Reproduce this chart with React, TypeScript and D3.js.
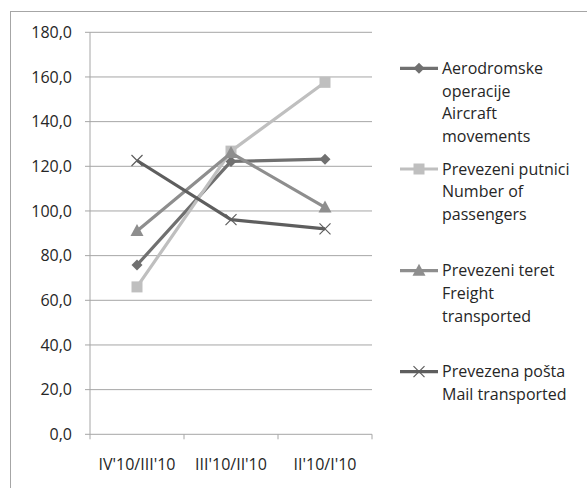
import React from "react";
import * as d3 from "d3";

const categories = ["IV'10/III'10", "III'10/II'10", "II'10/I'10"];
const aircraft = [75.8, 122.2, 123.2];
const passengers = [66.0, 126.8, 157.6];
const freight = [91.0, 126.0, 101.6];
const mail = [122.6, 96.1, 92.0];
const yTicks = [0, 20, 40, 60, 80, 100, 120, 140, 160, 180];

const seriesNames = [
  ["Aerodromske", "operacije", "Aircraft", "movements"],
  ["Prevezeni putnici", "Number of", "passengers"],
  ["Prevezeni teret", "Freight", "transported"],
  ["Prevezena pošta", "Mail transported"],
];

const series = [
  { values: aircraft, color: "#707070", marker: "diamond" },
  { values: passengers, color: "#bfbfbf", marker: "square" },
  { values: freight, color: "#8e8e8e", marker: "triangle" },
  { values: mail, color: "#5e5e5e", marker: "x" },
];

const FONT = "'Open Sans', sans-serif";

function Marker({ type, x, y, color }: { type: string; x: number; y: number; color: string }) {
  if (type === "diamond") {
    const s = 5.5;
    return <path d={`M${x},${y - s}L${x + s},${y}L${x},${y + s}L${x - s},${y}Z`} fill={color} />;
  }
  if (type === "square") {
    const s = 5.5;
    return <rect x={x - s} y={y - s} width={2 * s} height={2 * s} fill={color} />;
  }
  if (type === "triangle") {
    return <path d={`M${x},${y - 7}L${x + 6.5},${y + 5}L${x - 6.5},${y + 5}Z`} fill={color} />;
  }
  const s = 5.5;
  return (
    <path
      d={`M${x - s},${y - s}L${x + s},${y + s}M${x - s},${y + s}L${x + s},${y - s}`}
      stroke={color}
      strokeWidth={1.2}
      fill="none"
    />
  );
}

export default function App() {
  const W = 587;
  const H = 488;
  const left = 90;
  const right = 372;
  const top = 32.3;
  const bottom = 434.3;

  const x = d3.scaleBand<string>().domain(categories).range([left, right]);
  const y = d3.scaleLinear().domain([0, 180]).range([bottom, top]);
  const cx = (c: string) => (x(c) as number) + x.bandwidth() / 2;

  const line = d3
    .line<number>()
    .x((_, i) => cx(categories[i]))
    .y((d) => y(d));

  const legendX = 400;
  const legendTextX = 442;
  const lineH = 22.7;
  const legendStarts = [68.3, 169, 270.7, 371.7];

  return (
    <svg
      width={W}
      height={H}
      style={{ position: "absolute", left: 0, top: 0, background: "#fff" }}
      fontFamily={FONT}
    >
      <rect x={0} y={0} width={W} height={H} fill="#fff" />
      <rect x={10.5} y={11.5} width={700} height={700} fill="none" stroke="#a6a6a6" strokeWidth={1} />
      {yTicks.map((t) => (
        <g key={t}>
          {t > 0 && (
            <line x1={left} x2={right} y1={y(t)} y2={y(t)} stroke="#a6a6a6" strokeWidth={1} />
          )}
          <line x1={left - 5} x2={left} y1={y(t)} y2={y(t)} stroke="#a6a6a6" strokeWidth={1} />
          <text x={72} y={y(t)} dy="0.35em" textAnchor="end" fontSize={16} fill="#262626">
            {d3.format(".1f")(t).replace(".", ",")}
          </text>
        </g>
      ))}
      <line x1={left} x2={left} y1={top} y2={bottom} stroke="#a6a6a6" strokeWidth={1} />
      <line x1={left} x2={right} y1={bottom} y2={bottom} stroke="#a6a6a6" strokeWidth={1} />
      {[...categories.map((c) => x(c) as number), right].map((v, i) => (
        <line key={i} x1={v} x2={v} y1={bottom} y2={bottom + 5} stroke="#a6a6a6" strokeWidth={1} />
      ))}
      {categories.map((c) => (
        <text key={c} x={cx(c)} y={464} dy="0.35em" textAnchor="middle" fontSize={16} fill="#262626">
          {c}
        </text>
      ))}
      {series.map((s, si) => (
        <g key={si}>
          <path d={line(s.values) || ""} fill="none" stroke={s.color} strokeWidth={3.2} strokeLinejoin="round" />
          {s.values.map((v, i) => (
            <Marker key={i} type={s.marker} x={cx(categories[i])} y={y(v)} color={s.color} />
          ))}
        </g>
      ))}
      {series.map((s, si) => (
        <g key={"l" + si}>
          <line
            x1={legendX}
            x2={legendX + 38}
            y1={legendStarts[si]}
            y2={legendStarts[si]}
            stroke={s.color}
            strokeWidth={3.2}
          />
          <Marker type={s.marker} x={legendX + 19} y={legendStarts[si]} color={s.color} />
          {seriesNames[si].map((t, li) => (
            <text
              key={li}
              x={legendTextX}
              y={legendStarts[si] + li * lineH}
              dy="0.35em"
              fontSize={16}
              fill="#262626"
            >
              {t}
            </text>
          ))}
        </g>
      ))}
    </svg>
  );
}
